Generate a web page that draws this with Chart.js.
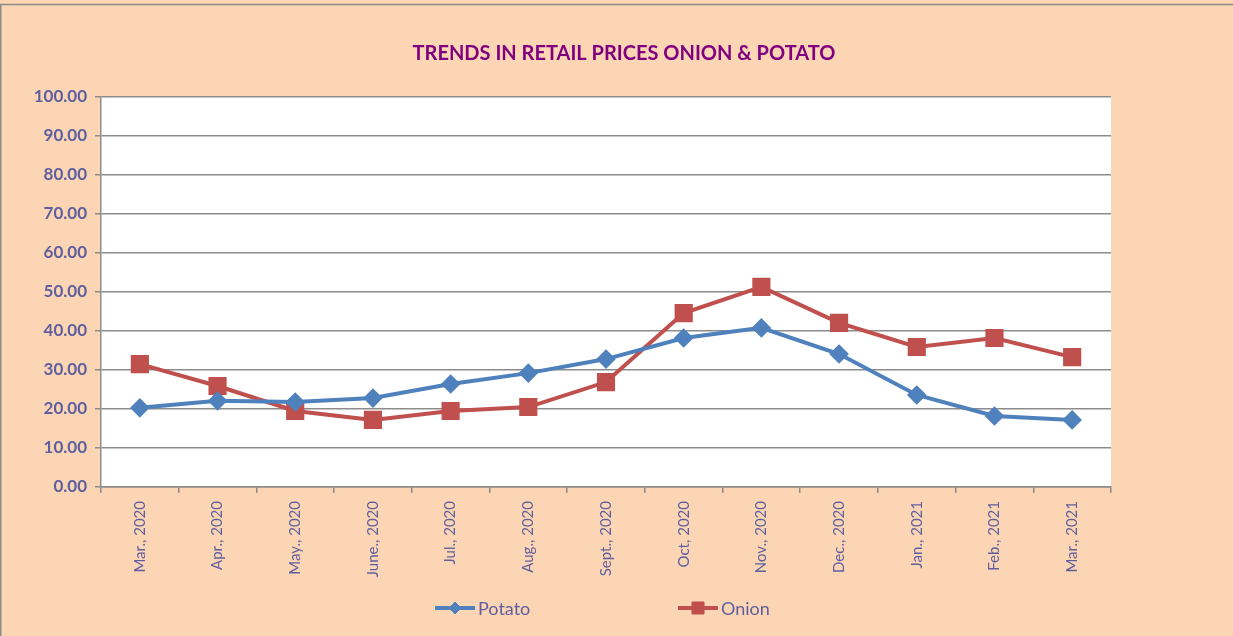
<!DOCTYPE html>
<html>
<head>
<meta charset="utf-8">
<script src="https://cdn.jsdelivr.net/npm/chart.js@4.4.1/dist/chart.umd.min.js"></script>
<style>
  html, body { margin: 0; padding: 0; background: #fcd5b4; }
  #wrap { width: 1233px; height: 636px; position: relative; }
</style>
</head>
<body>
<div id="wrap"><canvas id="priceChart" width="1233" height="636"></canvas></div>
<script>
const months = ['Mar., 2020', 'Apr., 2020', 'May., 2020', 'June., 2020', 'Jul., 2020', 'Aug., 2020',
    'Sept., 2020', 'Oct, 2020', 'Nov., 2020', 'Dec., 2020', 'Jan., 2021', 'Feb., 2021', 'Mar., 2021'];
const potato = [20.3, 22.1, 21.8, 22.8, 26.4, 29.2, 32.8, 38.2, 40.8, 34.1, 23.6, 18.2, 17.2];
const onion = [31.5, 25.9, 19.5, 17.2, 19.5, 20.5, 26.9, 44.6, 51.3, 42.1, 35.9, 38.2, 33.3];
const chartTitle = 'TRENDS IN RETAIL PRICES ONION & POTATO';

const textColor = '#5f5f9f';
const gridColor = '#8c8c8c';
const font = 'Lato, "Open Sans", sans-serif';

// white plot area, frame lines and title
const backdrop = {
    id: 'backdrop',
    beforeDraw(chart) {
        const { ctx, chartArea: a } = chart;
        ctx.save();
        ctx.fillStyle = '#ffffff';
        ctx.fillRect(a.left, a.top, a.right - a.left, a.bottom - a.top);
        ctx.strokeStyle = '#8c8c8c';
        ctx.lineWidth = 1.5;
        ctx.beginPath();
        ctx.moveTo(0, 4.5);
        ctx.lineTo(chart.width, 4.5);
        ctx.moveTo(0.75, 4.5);
        ctx.lineTo(0.75, chart.height);
        ctx.stroke();
        ctx.fillStyle = '#800080';
        ctx.font = 'bold 20px ' + font;
        ctx.textAlign = 'center';
        ctx.textBaseline = 'middle';
        ctx.fillText(chartTitle, 624, 54);
        ctx.restore();
    }
};

// legend drawn as line + marker like the original
const lineLegend = {
    id: 'lineLegend',
    afterDraw(chart) {
        const { ctx } = chart;
        const y = 608;
        const starts = [435, 678];
        const sizes = [6, 8.5];
        ctx.save();
        chart.data.datasets.forEach((ds, i) => {
            const x = starts[i];
            ctx.strokeStyle = ds.borderColor;
            ctx.lineWidth = 4;
            ctx.beginPath();
            ctx.moveTo(x, y);
            ctx.lineTo(x + 40, y);
            ctx.stroke();
            ctx.fillStyle = ds.backgroundColor;
            ctx.lineWidth = 1;
            Chart.helpers.drawPoint(ctx, { pointStyle: ds.pointStyle, radius: sizes[i], rotation: 0, borderWidth: 1 }, x + 20, y);
            ctx.fillStyle = textColor;
            ctx.font = '18px ' + font;
            ctx.textBaseline = 'middle';
            ctx.textAlign = 'left';
            ctx.fillText(ds.label, x + 43, y + 1);
        });
        ctx.restore();
    }
};

new Chart(document.getElementById('priceChart'), {
    type: 'line',
    data: {
        labels: months,
        datasets: [{
            label: 'Potato',
            data: potato,
            borderColor: '#4f81bd',
            backgroundColor: '#4f81bd',
            borderWidth: 4,
            pointStyle: 'rectRot',
            pointRadius: 7,
            pointHoverRadius: 7,
            tension: 0
        }, {
            label: 'Onion',
            data: onion,
            borderColor: '#c0504d',
            backgroundColor: '#c0504d',
            borderWidth: 4,
            pointStyle: 'rect',
            pointRadius: 10,
            pointHoverRadius: 10,
            tension: 0
        }]
    },
    options: {
        responsive: false,
        animation: false,
        layout: { padding: { left: 0, right: 122, top: 97, bottom: 50 } },
        plugins: {
            legend: { display: false },
            tooltip: { enabled: false },
            title: { display: false }
        },
        scales: {
            x: {
                offset: true,
                grid: { display: true, drawOnChartArea: false, offset: true, color: gridColor, tickLength: 6, lineWidth: 1.5 },
                border: { color: gridColor, width: 1.5 },
                ticks: {
                    color: textColor,
                    font: { family: font, size: 15 },
                    minRotation: 90,
                    maxRotation: 90,
                    padding: 8,
                    autoSkip: false
                },
                afterFit(scale) { scale.height = 99; }
            },
            y: {
                min: 0,
                max: 100,
                ticks: {
                    stepSize: 10,
                    color: textColor,
                    font: { family: font, size: 17, weight: 'bold' },
                    padding: 8,
                    callback: v => v.toFixed(2)
                },
                grid: { color: gridColor, lineWidth: 1.5, tickLength: 6 },
                border: { color: gridColor, width: 1.5 },
                afterFit(scale) { scale.width = 101; }
            }
        }
    },
    plugins: [backdrop, lineLegend]
});
</script>
</body>
</html>
